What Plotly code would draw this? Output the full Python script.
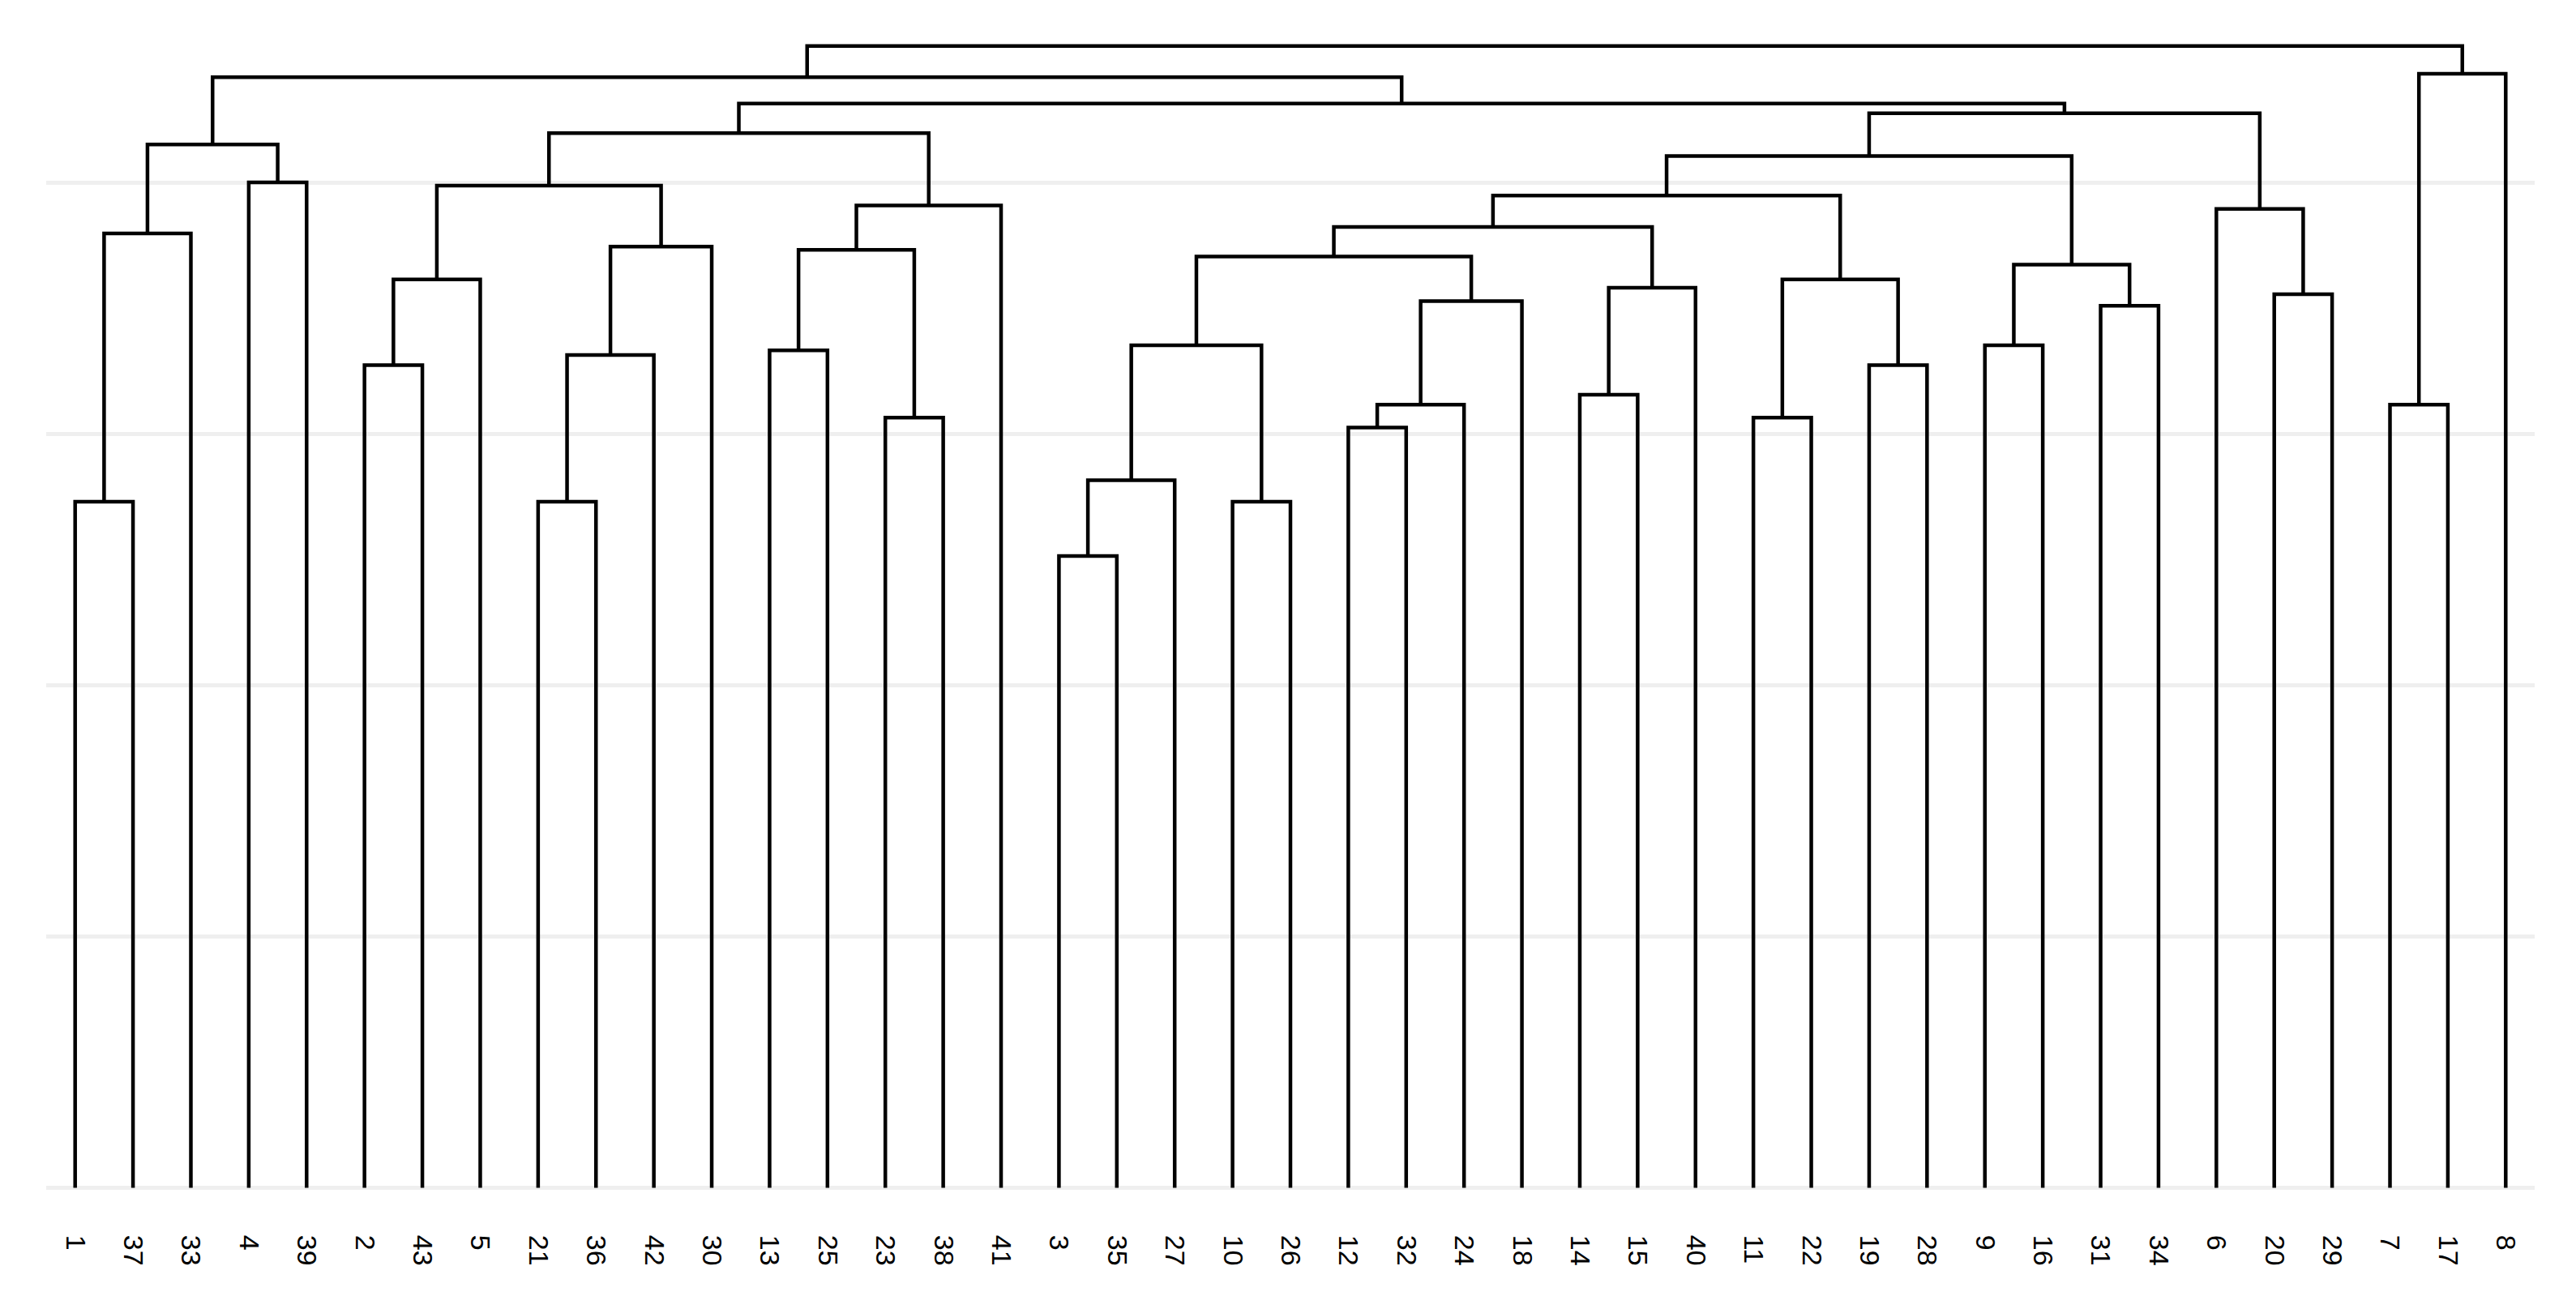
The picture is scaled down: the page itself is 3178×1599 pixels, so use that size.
"""
Hierarchical clustering dendrogram of 43 items, drawn with Plotly.
"""
import plotly.graph_objects as go

# Leaf order along the x axis (left to right)
leaf_labels = [1, 37, 33, 4, 39, 2, 43, 5, 21, 36, 42, 30, 13, 25, 23, 38, 41,
               3, 35, 27, 10, 26, 12, 32, 24, 18, 14, 15, 40, 11, 22, 19, 28,
               9, 16, 31, 34, 6, 20, 29, 7, 17, 8]

# Merge table in hclust style: negative = leaf label, positive = earlier merge (1-based)
merge_left = [-3, -1, -21, -10, 1, -12, -11, -23, 6, -7,
              -14, -2, -19, 3, -13, -9, 5, -31, 9, -20,
              11, 12, 7, 16, 17, 15, 14, 2, 25, -6,
              26, 29, 22, -4, 32, 28, 33, 35, 37, 36,
              10, 40]
merge_right = [-35, -37, -36, -26, -27, -32, -22, -38, -24, -17,
               -15, -43, -28, -42, -25, -16, 4, -34, -18, -29,
               -40, -5, 13, 18, 19, 8, -30, -33, 21, 20,
               -41, 23, 27, -39, 24, 34, 31, 30, 38, 39,
               -8, 41]
merge_height = [2.514, 2.730, 2.730, 2.730, 2.815, 3.025, 3.064, 3.064, 3.116, 3.116,
                3.155, 3.273, 3.273, 3.313, 3.332, 3.352, 3.352, 3.509, 3.528, 3.555,
                3.581, 3.614, 3.614, 3.673, 3.705, 3.732, 3.745, 3.797, 3.823, 3.895,
                3.908, 3.948, 3.987, 4.000, 4.105, 4.151, 4.196, 4.275, 4.314, 4.419,
                4.432, 4.543]

grid_values = [0, 1, 2, 3, 4]


def build_segments():
    """Turn the merge table into one polyline per merge (None-separated)."""
    leaf_pos = {lab: i + 1 for i, lab in enumerate(leaf_labels)}
    node_x, node_h = {}, {}
    xs, ys = [], []

    def child(ref):
        if ref < 0:
            return leaf_pos[-ref], 0.0
        return node_x[ref], node_h[ref]

    for k, (a, b, h) in enumerate(zip(merge_left, merge_right, merge_height), start=1):
        xa, ha = child(a)
        xb, hb = child(b)
        xs += [xa, xa, xb, xb, None]
        ys += [ha, h, h, hb, None]
        node_x[k] = (xa + xb) / 2
        node_h[k] = h
    return xs, ys


seg_x, seg_y = build_segments()

fig = go.Figure()
fig.add_trace(go.Scatter(
    x=seg_x,
    y=seg_y,
    mode='lines',
    line=dict(color='black', width=4.5),
    hoverinfo='skip',
    showlegend=False
))

fig.update_xaxes(
    range=[0.5, len(leaf_labels) + 0.5],
    tickmode='array',
    tickvals=list(range(1, len(leaf_labels) + 1)),
    ticktext=[str(v) for v in leaf_labels],
    tickangle=90,
    tickfont=dict(family='Liberation Sans, Arial, sans-serif', size=34, color='black'),
    showgrid=False,
    zeroline=False,
    showline=False,
    ticks='outside',
    ticklen=4,
    tickcolor='rgba(0,0,0,0)',
    automargin=False
)
fig.update_yaxes(
    range=[-0.15, 4.7],
    tickmode='array',
    tickvals=grid_values,
    showticklabels=False,
    showgrid=True,
    gridcolor='#EFEFEF',
    gridwidth=5,
    zeroline=False,
    showline=False,
    automargin=False
)

# page body adds an 8px offset, so the figure is 8px smaller than the window
fig.update_layout(
    width=3170,
    height=1591,
    margin=dict(l=49, r=51, t=0, b=87),
    plot_bgcolor='white',
    paper_bgcolor='white',
    showlegend=False
)

fig.write_html("out.html")
